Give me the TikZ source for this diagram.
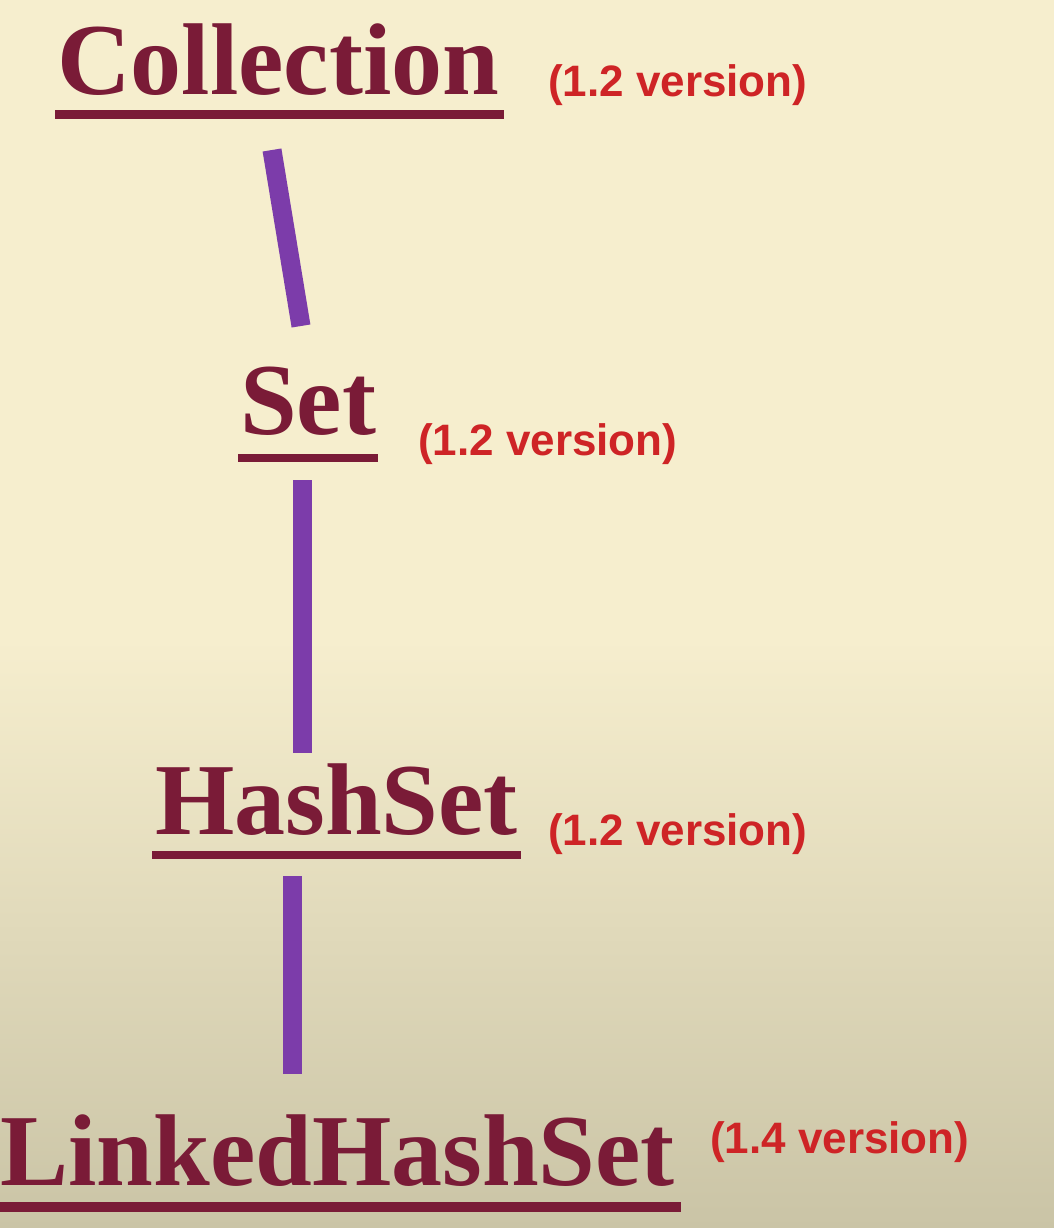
\documentclass[tikz,border=0pt]{standalone}
\usepackage{fontspec}
\setmainfont{Liberation Serif}
\newfontfamily\labfont{Liberation Sans}
\definecolor{bgtop}{RGB}{246,238,206}
\definecolor{bgbot}{RGB}{202,196,166}
\definecolor{maroon}{RGB}{122,27,55}
\definecolor{verred}{RGB}{206,36,38}
\definecolor{conn}{RGB}{124,60,170}
\tikzset{
  title/.style={anchor=base west, inner sep=0pt, text=maroon, font=\fontsize{102}{110}\selectfont\bfseries},
  ver/.style={anchor=base west, inner sep=0pt, text=verred, font=\labfont\fontsize{44}{50}\selectfont\bfseries},
  uline/.style={fill=maroon, draw=none},
  link/.style={draw=conn, line width=19pt, line cap=butt}
}
\begin{document}
\begin{tikzpicture}[x=1pt,y=-1pt]
\useasboundingbox (0,0) rectangle (1054,1228);
\fill[bgtop] (0,0) rectangle (1054,640);
\shade[top color=bgtop, bottom color=bgbot] (0,639) rectangle (1054,1228);

\node[title] (coll) at (57,95) {Collection};
\node[ver] (collv) at (548,97) {(1.2 version)};
\fill[uline] (55,110) rectangle (504,119);

\node[title] (set) at (240,434) {Set};
\node[ver] (setv) at (418,455) {(1.2 version)};
\fill[uline] (238,454) rectangle (378,462);

\node[title] (hs) at (155,834) {HashSet};
\node[ver] (hsv) at (548,845) {(1.2 version)};
\fill[uline] (152,851) rectangle (521,859);

\node[title] (lhs) at (0,1185) {LinkedHashSet};
\node[ver] (lhsv) at (710,1153) {(1.4 version)};
\fill[uline] (0,1202) rectangle (681,1212);

\coordinate (a1) at (272,150);
\coordinate (a2) at (301,326);
\coordinate (b1) at (302,480);
\coordinate (b2) at (302,753);
\coordinate (c1) at (292,876);
\coordinate (c2) at (292,1074);
\draw[link] (a1) -- (a2);
\draw[link] (b1) -- (b2);
\draw[link] (c1) -- (c2);
\end{tikzpicture}
\end{document}
